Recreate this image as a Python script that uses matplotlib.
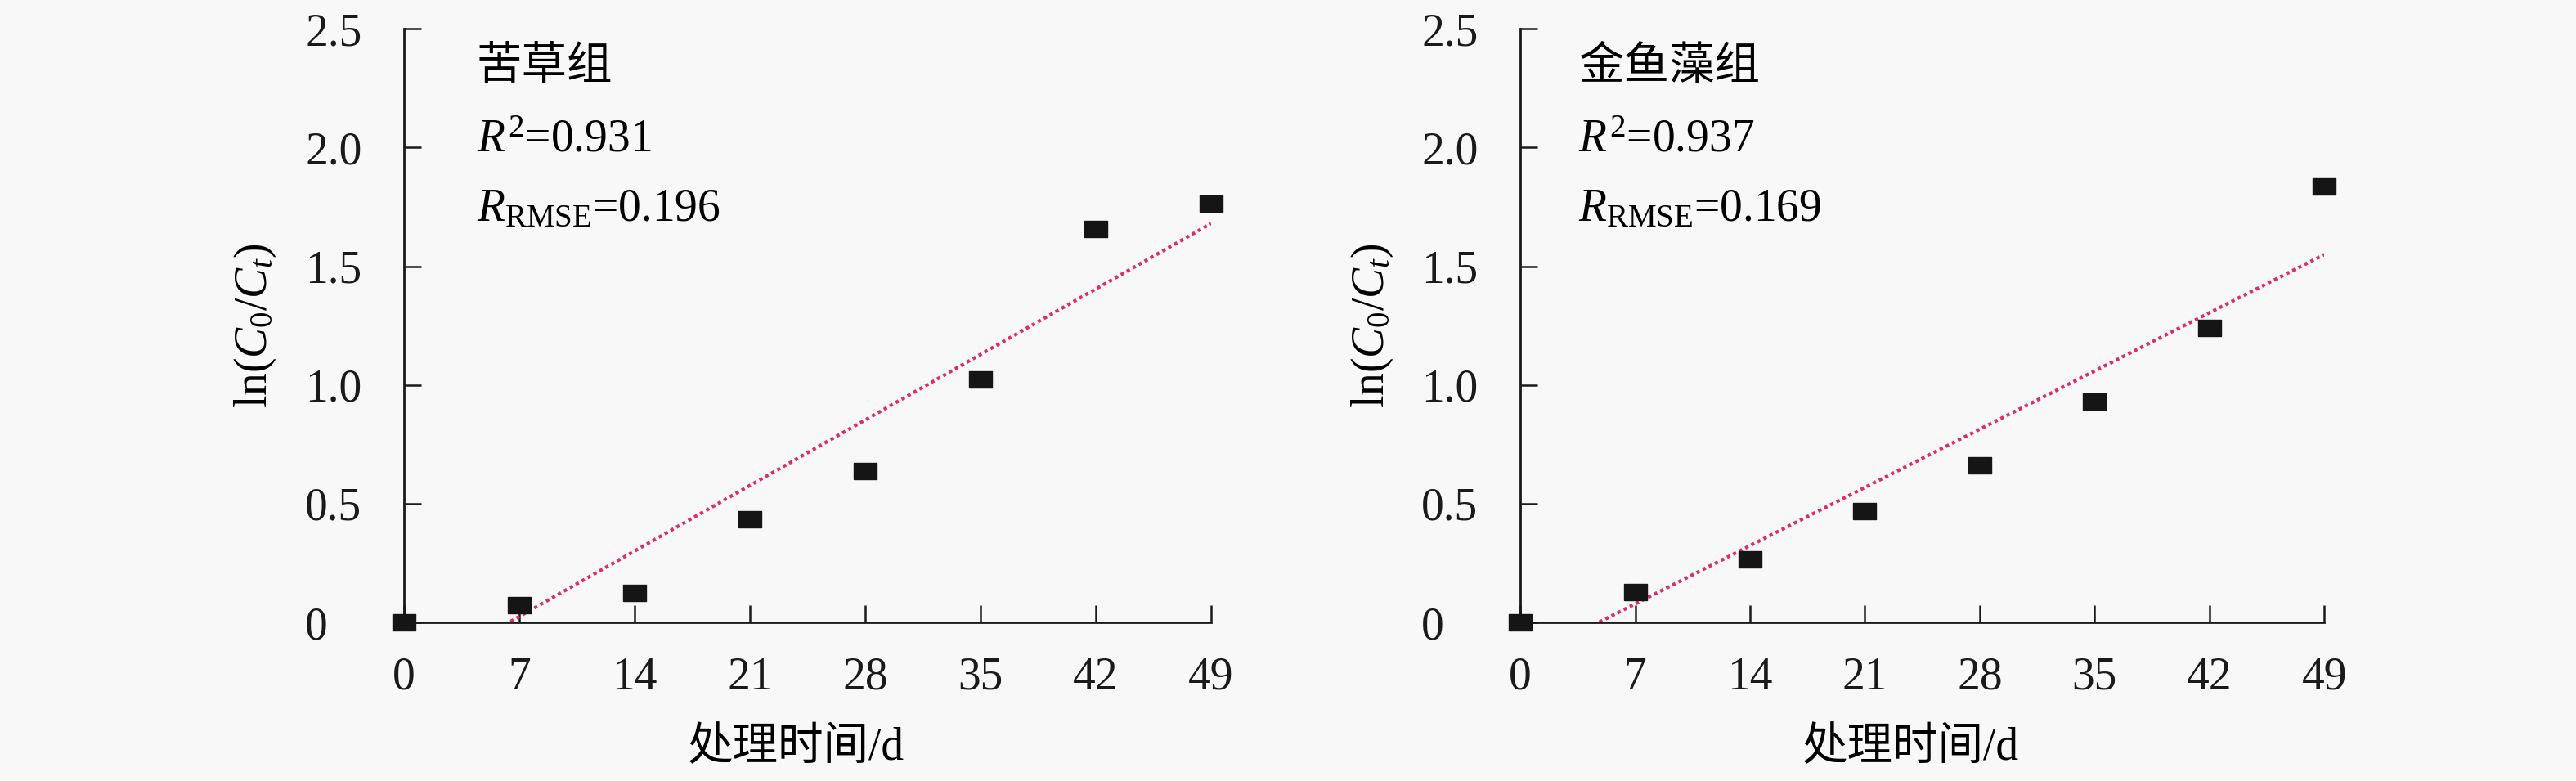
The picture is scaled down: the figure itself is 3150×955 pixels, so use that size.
import matplotlib
matplotlib.use("Agg")
import matplotlib.pyplot as plt
import numpy as np
from matplotlib.path import Path

plt.rcParams['font.family'] = ['Liberation Serif', 'Noto Sans CJK SC']
plt.rcParams['mathtext.fontset'] = 'custom'
plt.rcParams['mathtext.rm'] = 'Liberation Serif'
plt.rcParams['mathtext.it'] = 'Liberation Serif:italic'

# 数据
days = [0, 7, 14, 21, 28, 35, 42, 49]
vals_kucao = [0.0, 0.072, 0.124, 0.435, 0.639, 1.023, 1.656, 1.765]
vals_jinyuzao = [0.0, 0.129, 0.265, 0.467, 0.660, 0.930, 1.241, 1.836]
group_names = ['苦草组', '金鱼藻组']
r2_list = ['0.931', '0.937']
rmse_list = ['0.196', '0.169']
yticks = [0, 0.5, 1.0, 1.5, 2.0, 2.5]
ytick_labels = ['0', '0.5', '1.0', '1.5', '2.0', '2.5']

bg = '#f8f8f8'
rect = Path([(-1.4, -1), (1.4, -1), (1.4, 1), (-1.4, 1), (-1.4, -1)])

fig = plt.figure(figsize=(31.5, 9.55), dpi=100, facecolor=bg)
axes_pos = [[0.1568, 0.2031, 0.3133, 0.760],
            [0.5902, 0.2031, 0.3121, 0.760]]
text_x = [0.09, 0.072]

for i, vals in enumerate([vals_kucao, vals_jinyuzao]):
    ax = fig.add_axes(axes_pos[i])
    ax.set_facecolor(bg)

    # 线性拟合
    k, b = np.polyfit(days, vals, 1)
    xs = np.array([0, 49])
    ax.plot(xs, k * xs + b, ls=(0, (1, 1)), color='#dc2e63', lw=3.0, zorder=2)

    ax.plot(days, vals, ls='none', marker=rect, ms=19.5, color='#151515',
            clip_on=False, zorder=3)

    ax.set_xlim(0, 49)
    ax.set_ylim(0, 2.5)
    ax.set_xticks(days)
    ax.set_xticklabels([str(d) for d in days])
    ax.set_yticks(yticks)
    ax.set_yticklabels(ytick_labels)
    for sp in ['top', 'right']:
        ax.spines[sp].set_visible(False)
    for sp in ['left', 'bottom']:
        ax.spines[sp].set_linewidth(2.0)
        ax.spines[sp].set_color('#1a1a1a')
    ax.tick_params(axis='both', direction='in', length=15, width=1.8,
                   colors='#1a1a1a', labelsize=40)
    ax.tick_params(axis='x', pad=30)
    ax.tick_params(axis='y', pad=87)
    for lbl in ax.get_yticklabels():
        lbl.set_horizontalalignment('left')

    ax.set_ylabel(r'$\mathrm{ln}(C_0/C_t)$', fontsize=40)
    ax.yaxis.set_label_coords(-0.156, 0.5)
    ax.set_xlabel('处理时间/d', fontsize=40)
    ax.xaxis.set_label_coords(0.485, -0.176)

    ax.text(text_x[i], 0.915, group_names[i], transform=ax.transAxes,
            fontsize=40, ha='left', va='baseline')
    ax.text(text_x[i], 0.793, r'$R^2$=' + r2_list[i], transform=ax.transAxes,
            fontsize=40, ha='left', va='baseline')
    ax.text(text_x[i], 0.676, r'$R_{\mathrm{RMSE}}$=' + rmse_list[i],
            transform=ax.transAxes, fontsize=40, ha='left', va='baseline')

fig.savefig('out.png', dpi=100, facecolor=bg)
